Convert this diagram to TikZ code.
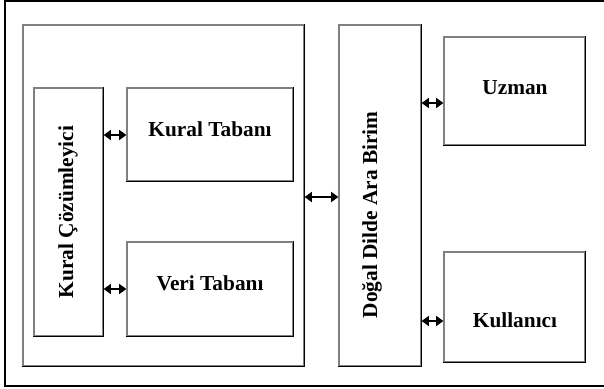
\documentclass[tikz,border=0pt]{standalone}
\usepackage{fontspec}
\setmainfont{Liberation Serif}
\usetikzlibrary{fit,arrows.meta}
\begin{document}
\begin{tikzpicture}[x=0.75pt,y=-0.75pt,
  boxn/.style={draw=black!50,line width=0.9pt,inner sep=0pt,rectangle},
  lbl/.style={font=\fontsize{16}{19}\selectfont\bfseries,inner sep=0pt},
  dbl/.style={line width=1.7pt,{Triangle[length=5.5pt,width=7.5pt]}-{Triangle[length=5.5pt,width=7.5pt]}}]
\useasboundingbox (0,0) rectangle (604,389);
\fill[white] (0,0) rectangle (604,389);
% outer frame (right edge outside)
\draw[line width=1.5pt] (610,1.2) -- (5,1.2) -- (5,386) -- (610,386);
% boxes
\node[boxn,fit={(23,25) (304,366)}] (big) {};
\node[boxn,fit={(34,88) (103,336)}] (kc) {};
\node[boxn,fit={(127,88) (293,181)}] (kt) {};
\node[boxn,fit={(127,242) (293,336)}] (vt) {};
\node[boxn,fit={(339,25) (421,366)}] (dd) {};
\node[boxn,fit={(444,37) (585,145)}] (uz) {};
\node[boxn,fit={(444,252) (585,362)}] (ku) {};
\foreach \n in {big,kc,kt,vt,dd,uz,ku}{
  \draw[black,line width=0.9pt] (\n.north east) -- (\n.south east) -- (\n.south west);
}
% labels
\node[lbl] (tkt) at (210,129) {Kural Tabanı};
\node[lbl] (tvt) at (210,283) {Veri Tabanı};
\node[lbl] (tuz) at (515,88) {Uzman};
\node[lbl] (tku) at (515,320) {Kullanıcı};
\node[lbl,rotate=90] (tkc) at (68,212) {Kural Çözümleyici};
\node[lbl,rotate=90] (tdd) at (372,215) {Doğal Dilde Ara Birim};
% connectors
\coordinate (a1) at (kc.east |- 0,135);
\coordinate (a2) at (kt.west |- 0,135);
\draw[dbl] (a1) -- (a2);
\coordinate (b1) at (kc.east |- 0,289);
\coordinate (b2) at (vt.west |- 0,289);
\draw[dbl] (b1) -- (b2);
\coordinate (c1) at (big.east |- 0,197);
\coordinate (c2) at (dd.west |- 0,197);
\draw[dbl] (c1) -- (c2);
\coordinate (d1) at (dd.east |- 0,103);
\coordinate (d2) at (uz.west |- 0,103);
\draw[dbl] (d1) -- (d2);
\coordinate (e1) at (dd.east |- 0,321);
\coordinate (e2) at (ku.west |- 0,321);
\draw[dbl] (e1) -- (e2);
\end{tikzpicture}
\end{document}
